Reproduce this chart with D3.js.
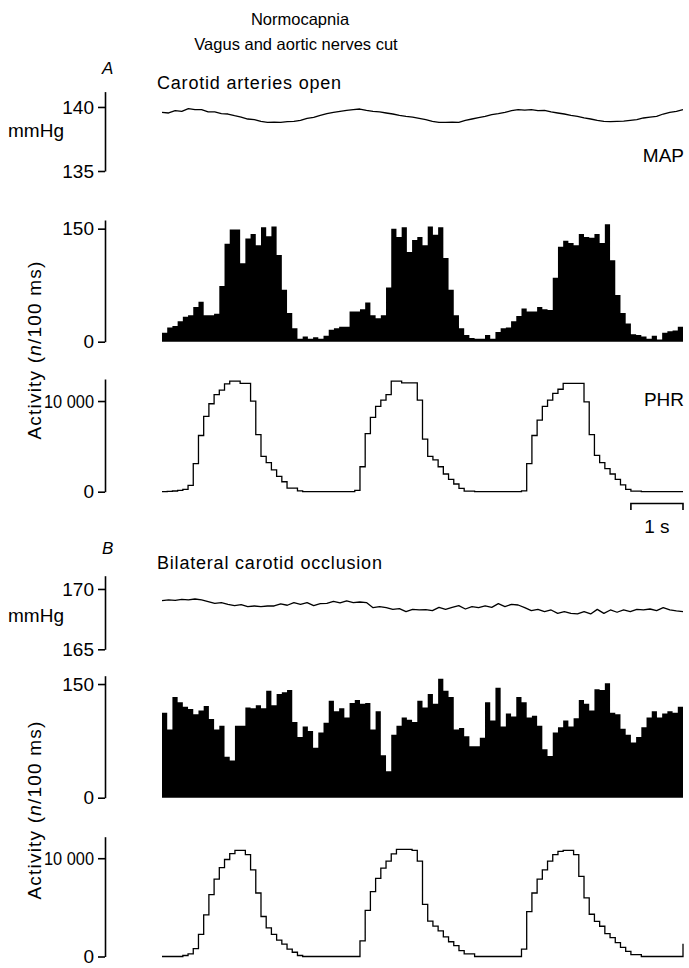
<!DOCTYPE html>
<html>
<head>
<meta charset="utf-8">
<script src="https://cdn.jsdelivr.net/npm/d3@7"></script>
<style>
  body { margin: 0; background: #fff; }
  text { font-family: "Liberation Sans", Arial, sans-serif; }
</style>
</head>
<body>
<script>
// mean arterial pressure, mmHg, evenly spaced over the 10 s record
const mapA = [139.58, 139.53, 139.71, 139.66, 139.87, 139.79, 139.79, 139.61, 139.61, 139.48,
  139.45, 139.32, 139.21, 139.06, 139.01, 138.87, 138.80, 138.82, 138.80, 138.85,
  138.87, 138.95, 139.11, 139.19, 139.35, 139.48, 139.58, 139.66, 139.74, 139.79,
  139.84, 139.74, 139.66, 139.61, 139.53, 139.45, 139.35, 139.27, 139.21, 139.11,
  139.01, 138.87, 138.80, 138.80, 138.82, 138.80, 138.95, 139.06, 139.16, 139.27,
  139.40, 139.48, 139.58, 139.71, 139.79, 139.76, 139.79, 139.71, 139.74, 139.61,
  139.53, 139.45, 139.35, 139.27, 139.14, 139.06, 138.95, 138.87, 138.85, 138.87,
  138.90, 138.95, 139.01, 139.14, 139.21, 139.27, 139.45, 139.58, 139.66, 139.79];
const mapB = [169.03, 169.09, 169.06, 169.14, 169.09, 169.17, 169.09, 168.95, 168.81, 168.87,
  168.73, 168.62, 168.70, 168.54, 168.59, 168.54, 168.59, 168.59, 168.76, 168.65,
  168.87, 168.73, 168.87, 168.62, 168.78, 168.81, 168.98, 168.84, 169.01, 168.87,
  168.92, 168.87, 168.45, 168.54, 168.45, 168.31, 168.37, 168.12, 168.31, 168.26,
  168.29, 168.20, 168.48, 168.31, 168.48, 168.62, 168.34, 168.54, 168.45, 168.59,
  168.48, 168.78, 168.54, 168.73, 168.67, 168.45, 168.20, 168.31, 168.12, 168.26,
  167.98, 168.12, 167.98, 167.93, 168.12, 167.93, 168.31, 167.98, 168.26, 168.07,
  168.26, 168.12, 168.31, 168.26, 168.34, 168.20, 168.45, 168.26, 168.18, 168.12];

// unit activity, spikes per 100 ms bin (100 bins)
const histA = [12, 19, 21, 27, 33, 35, 46, 53, 35, 35, 37, 74, 130, 149, 149, 104, 137, 143, 128, 152,
  140, 153, 115, 69, 38, 18, 4, 7, 4, 6, 4, 8, 16, 18, 20, 20, 40, 40, 43, 52,
  35, 31, 35, 72, 150, 139, 152, 119, 135, 139, 128, 153, 142, 152, 111, 69, 35, 18, 9, 5,
  4, 4, 9, 4, 13, 18, 19, 27, 34, 44, 40, 40, 46, 43, 42, 85, 126, 134, 131, 128,
  143, 139, 138, 143, 131, 156, 108, 62, 38, 24, 10, 9, 7, 4, 8, 3, 12, 14, 15, 20];
const histB = [112, 90, 133, 126, 120, 117, 110, 115, 121, 104, 90, 95, 54, 49, 95, 95, 119, 118, 122, 118,
  141, 122, 137, 139, 142, 100, 80, 94, 88, 66, 86, 99, 128, 114, 118, 106, 125, 129, 124, 125,
  90, 114, 56, 35, 83, 95, 106, 103, 100, 128, 119, 137, 124, 157, 141, 133, 90, 92, 81, 68,
  68, 79, 126, 102, 145, 94, 111, 107, 133, 126, 106, 108, 95, 64, 55, 86, 93, 102, 94, 105,
  129, 124, 115, 143, 142, 151, 112, 110, 91, 83, 73, 80, 93, 106, 114, 106, 111, 114, 112, 120];

// integrated phrenic activity per 100 ms bin, last entry = value at the 10 s mark
const phrA = [0, 30, 80, 150, 250, 700, 3100, 6200, 8300, 9700, 10700, 11200, 11900, 12200, 12200, 11950, 11950, 10000, 6300, 3900,
  3200, 2400, 1700, 1100, 400, 400, 100, 0, 0, 0, 0, 0, 0, 0, 0, 0, 0, 150, 2750, 6400,
  8200, 9400, 10100, 10700, 12200, 12200, 12000, 12000, 12000, 10100, 5800, 3900, 3500, 2750, 1950, 1350, 850, 370, 70, 70,
  0, 0, 0, 0, 0, 0, 0, 0, 0, 100, 3100, 6200, 7900, 9400, 10100, 10850, 11300, 11950, 11950, 11950,
  11950, 9900, 6300, 4000, 3200, 2550, 1950, 1350, 750, 260, 70, 70, 0, 0, 0, 0, 0, 0, 0, 0, 0];
const phrB = [0, 0, 0, 0, 100, 260, 800, 2250, 4240, 6290, 7880, 9040, 9870, 10460, 10800, 10800, 10360, 8810, 6460, 4070,
  2910, 2250, 1660, 1260, 760, 430, 100, 0, 0, 0, 0, 0, 0, 0, 0, 0, 0, 0, 1600, 4700,
  6600, 7950, 9000, 9700, 10450, 10900, 10900, 10900, 10800, 9700, 5300, 3600, 3100, 2600, 2000, 1500, 1100, 600, 260, 260,
  0, 0, 0, 0, 0, 0, 0, 0, 0, 760, 4570, 6460, 7880, 8810, 9700, 10360, 10700, 10800, 10800, 10360,
  8150, 5960, 4300, 3580, 3080, 2320, 1920, 1420, 930, 530, 200, 200, 0, 0, 0, 0, 0, 0, 0, 0, 1300];

const mapTicksA = [135, 140];
const mapTicksB = [165, 170];
const histTicks = [0, 150];
const phrTicks = [0, 10000];

const width = 689, height = 968;
const axisX = 105;
const fontSize = 19;

const x = d3.scaleLinear().domain([0, 10]).range([162, 683]);

const svg = d3.select("body").append("svg")
    .attr("width", width)
    .attr("height", height)
    .attr("viewBox", [0, 0, width, height]);

const fmt = d => d === 10000 ? "10 000" : d;

function yAxis(y, ticks) {
    svg.append("g")
        .attr("transform", `translate(${axisX},0)`)
        .call(d3.axisLeft(y).tickValues(ticks).tickSize(7).tickSizeOuter(0).tickPadding(4).tickFormat(fmt))
        .call(g => g.attr("font-size", fontSize).attr("font-family", null))
        .call(g => g.selectAll("path, line").attr("stroke", "#000").attr("stroke-width", 1.6))
        .call(g => g.selectAll("text").attr("fill", "#000"))
        // the long label is set a little tighter, as in the figure
        .call(g => g.selectAll("text").filter(d => d === 10000)
            .attr("textLength", 50).attr("lengthAdjust", "spacingAndGlyphs"));
}

function mapPanel(values, ticks, domain, range) {
    const y = d3.scaleLinear().domain(domain).range(range);
    yAxis(y, ticks);
    const t = d3.range(values.length).map(i => i * 10 / (values.length - 1));
    const line = d3.line().x((d, i) => x(t[i])).y(d => y(d));
    svg.append("path")
        .attr("d", line(values))
        .attr("fill", "none")
        .attr("stroke", "#000")
        .attr("stroke-width", 1.3)
        .attr("stroke-linejoin", "round");
}

function histPanel(values, domain, range) {
    const y = d3.scaleLinear().domain(domain).range(range);
    yAxis(y, histTicks);
    const pts = values.map((v, i) => [i / 10, v]).concat([[10, values[values.length - 1]]]);
    const area = d3.area()
        .curve(d3.curveStepAfter)
        .x(d => x(d[0]))
        .y0(y(0))
        .y1(d => y(d[1]));
    svg.append("path").attr("d", area(pts)).attr("fill", "#000");
}

function phrPanel(values, domain, range) {
    const y = d3.scaleLinear().domain(domain).range(range);
    yAxis(y, phrTicks);
    const pts = values.map((v, i) => [i / 10, v]);
    const line = d3.line().curve(d3.curveStepAfter).x(d => x(d[0])).y(d => y(d[1]));
    svg.append("path")
        .attr("d", line(pts))
        .attr("fill", "none")
        .attr("stroke", "#000")
        .attr("stroke-width", 1.3);
}

function label(txt, px, py, opts = {}) {
    return svg.append("text")
        .attr("x", px).attr("y", py)
        .attr("font-size", opts.size || fontSize)
        .attr("text-anchor", opts.anchor || "start")
        .attr("font-style", opts.italic ? "italic" : null)
        .attr("letter-spacing", opts.spacing || null)
        .attr("fill", "#000")
        .text(txt);
}

function activityLabel(cy) {
    const t = svg.append("text")
        .attr("transform", `translate(41,${cy}) rotate(-90)`)
        .attr("text-anchor", "middle")
        .attr("font-size", fontSize)
        .attr("letter-spacing", 1.2)
        .attr("fill", "#000");
    t.append("tspan").text("Activity (");
    t.append("tspan").attr("font-style", "italic").text("n");
    t.append("tspan").text("/100 ms)");
}

// titles
label("Normocapnia", 300, 25, {size: 16.5, anchor: "middle"});
label("Vagus and aortic nerves cut", 296, 50, {size: 16.5, anchor: "middle"});

// panel A
label("A", 102, 74, {size: 17, italic: true});
label("Carotid arteries open", 157, 89, {size: 18, spacing: 0.8});
mapPanel(mapA, mapTicksA, [135, 141.2], [171, 91.6]);
label("mmHg", 8, 137);
label("MAP", 684, 162, {anchor: "end"});
histPanel(histA, [0, 161.5], [341.7, 220]);
phrPanel(phrA, [0, 12430], [491.7, 379]);
label("PHR", 684, 406, {anchor: "end"});
activityLabel(350);

// time scale bar
svg.append("path")
    .attr("d", `M${x(9)},510V503.5H${x(10)}V510`)
    .attr("fill", "none")
    .attr("stroke", "#000")
    .attr("stroke-width", 1.6);
label("1 s", x(9.5), 533, {anchor: "middle"});

// panel B
label("B", 102, 554, {size: 17, italic: true});
label("Bilateral carotid occlusion", 157, 569, {size: 18, spacing: 0.8});
mapPanel(mapB, mapTicksB, [165, 171.1], [649.3, 575.7]);
label("mmHg", 8, 622);
histPanel(histB, [0, 161], [797.7, 675.7]);
phrPanel(phrB, [0, 12190], [956.5, 836.7]);
activityLabel(810);
</script>
</body>
</html>
